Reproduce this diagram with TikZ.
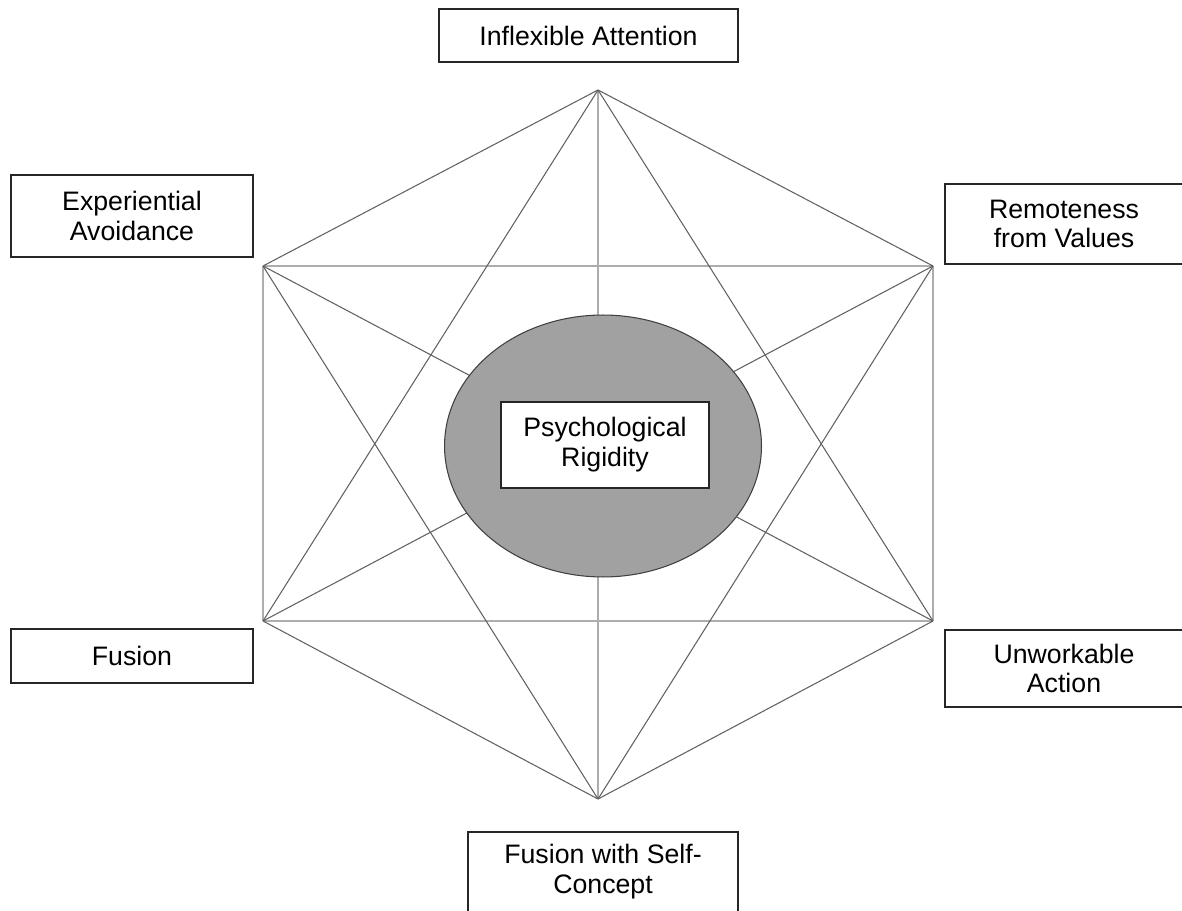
\documentclass[tikz,border=0pt]{standalone}
\usepackage{fontspec}
\setmainfont{Liberation Sans}
\usetikzlibrary{shapes,shapes.geometric,positioning,calc}

\begin{document}
\begin{tikzpicture}[
    x=0.02cm,
    y=-0.02cm,
    every node/.style={font=\fontsize{15.2}{17}\selectfont},
    labelbox/.style={rectangle, draw=black!85, line width=0.8pt, fill=white, inner sep=0pt, align=center},
    slant/.style={draw=black!62, line width=0.6pt},
    straight/.style={draw=black!32, line width=0.9pt},
    core/.style={ellipse, draw=black!75, line width=0.6pt, fill=black!37, minimum width=6.34cm, minimum height=5.24cm, inner sep=0pt}
]
    \useasboundingbox (0,0) rectangle (1182,911);

    % hexagon corners
    \coordinate (top) at (598,90);
    \coordinate (ur) at (933,266);
    \coordinate (lr) at (933,621);
    \coordinate (bot) at (598,799);
    \coordinate (ll) at (263,621);
    \coordinate (ul) at (263,266);

    % straight lines
    \draw[straight] (ul) -- (ur);
    \draw[straight] (ll) -- (lr);
    \draw[straight] (ul) -- (ll);
    \draw[straight] (ur) -- (lr);
    \draw[straight] (top) -- (bot);

    % slanted lines
    \draw[slant] (top) -- (ur);
    \draw[slant] (ur) -- (ll);
    \draw[slant] (lr) -- (bot);
    \draw[slant] (bot) -- (ll);
    \draw[slant] (ul) -- (lr);
    \draw[slant] (ul) -- (top);
    \draw[slant] (top) -- (ll);
    \draw[slant] (top) -- (lr);
    \draw[slant] (ul) -- (bot);
    \draw[slant] (ur) -- (bot);

    \node[core] (rigid) at (603,446) {};
    \node[labelbox, minimum width=4.16cm, minimum height=1.72cm] (rigidity) at (605,445) {Psychological\\Rigidity};

    \node[labelbox, minimum width=5.98cm, minimum height=1.06cm] (attention) at (588.5,35.5) {Inflexible Attention};
    \node[labelbox, minimum width=4.84cm, minimum height=1.64cm] (avoidance) at (132,216) {Experiential\\Avoidance};
    \node[labelbox, minimum width=4.76cm, minimum height=1.60cm] (values) at (1064,224) {Remoteness\\from Values};
    \node[labelbox, minimum width=4.84cm, minimum height=1.08cm] (fusion) at (132,656) {Fusion};
    \node[labelbox, minimum width=4.76cm, minimum height=1.54cm] (action) at (1064,668.5) {Unworkable\\Action};
    \node[labelbox, minimum width=5.40cm, minimum height=1.60cm] (selfconcept) at (603,872) {Fusion with Self-\\Concept};
\end{tikzpicture}
\end{document}
